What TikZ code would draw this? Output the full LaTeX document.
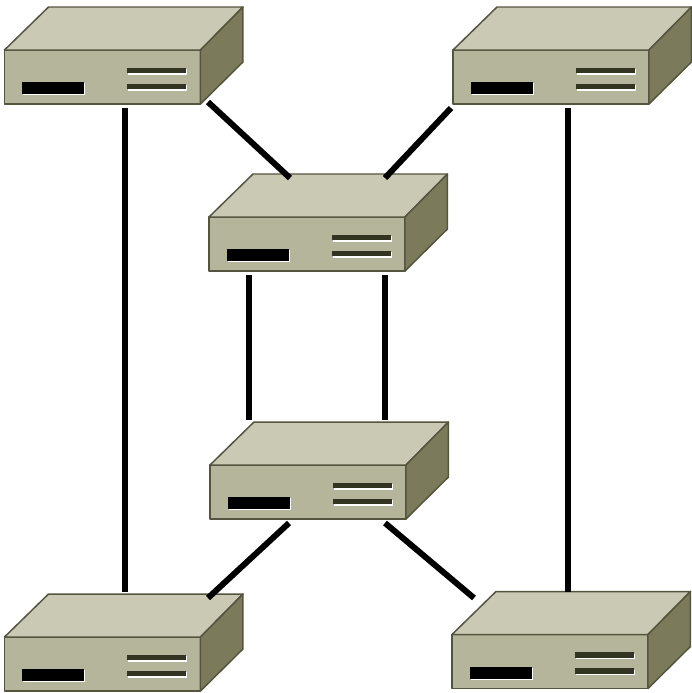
\documentclass[tikz,border=0pt]{standalone}
\usepackage{tikz}
\usetikzlibrary{calc}
\definecolor{facetop}{HTML}{C9C9B4}
\definecolor{facefront}{HTML}{B5B59B}
\definecolor{faceside}{HTML}{7B7B5B}
\definecolor{faceedge}{HTML}{55553F}
\definecolor{slotdark}{HTML}{333322}
\tikzset{
  frontface/.style={draw=faceedge,fill=facefront,line width=0.85pt,line join=round,
    minimum width=3.92cm,minimum height=1.08cm,inner sep=0pt,outer sep=0pt,anchor=north west},
  topface/.style={draw=faceedge,fill=facetop,line width=0.85pt,line join=round},
  sideface/.style={draw=faceedge,fill=faceside,line width=0.85pt,line join=round},
  link/.style={black,line width=3.4pt},
}
% #1 name, #2 #3 top left corner of the front face
\newcommand{\switchbox}[3]{
\node [frontface] (#1) at (#2,#3) {};
\draw [topface] (#1.north west) -- ++(44,43) -- ++(194.5,0) -- (#1.north east) -- cycle;
\draw [sideface] (#1.north east) -- ++(42.5,43) -- ++(0,-55) -- (#1.south east) -- cycle;
\fill [white] ($(#1.north west)+(18.5,-33)$) rectangle ++(62,-12);
\fill [black] ($(#1.north west)+(17.5,-32)$) rectangle ++(62,-12);
\fill [white] ($(#1.north west)+(123.5,-19)$) rectangle ++(59,-5.5);
\fill [slotdark] ($(#1.north west)+(122.5,-17.5)$) rectangle ++(59,-5.5);
\fill [white] ($(#1.north west)+(123.5,-35)$) rectangle ++(59,-5.5);
\fill [slotdark] ($(#1.north west)+(122.5,-33.5)$) rectangle ++(59,-5.5);
}
\begin{document}
\begin{tikzpicture}[x=0.02cm,y=0.02cm]
\fill [white] (0,0) rectangle (692,-693);
\useasboundingbox (0,0) rectangle (692,-693);
\switchbox{topleft}{4.5}{-50}
\switchbox{topright}{453}{-50}
\switchbox{upper}{209}{-217}
\switchbox{lower}{210}{-465}
\switchbox{botleft}{4.5}{-637}
\switchbox{botright}{452}{-634.5}
% link ends
\coordinate (tlout) at (208,-102);
\coordinate (upin1) at (290,-178);
\coordinate (trout) at (451,-108);
\coordinate (upin2) at (385,-178);
\coordinate (upout1) at (249,-275);
\coordinate (lowin1) at (249,-420);
\coordinate (upout2) at (385,-275);
\coordinate (lowin2) at (385,-420);
\coordinate (lowout1) at (289,-523);
\coordinate (blin) at (208,-598);
\coordinate (lowout2) at (385,-523);
\coordinate (brin) at (474,-598);
\coordinate (tldown) at (125,-108);
\coordinate (blup) at (125,-592);
\coordinate (trdown) at (568,-108);
\coordinate (brup) at (568,-592);
\draw [link] (tlout) -- (upin1);
\draw [link] (trout) -- (upin2);
\draw [link] (upout1) -- (lowin1);
\draw [link] (upout2) -- (lowin2);
\draw [link] (lowout1) -- (blin);
\draw [link] (lowout2) -- (brin);
\draw [link] (tldown) -- (blup);
\draw [link] (trdown) -- (brup);
\end{tikzpicture}
\end{document}
